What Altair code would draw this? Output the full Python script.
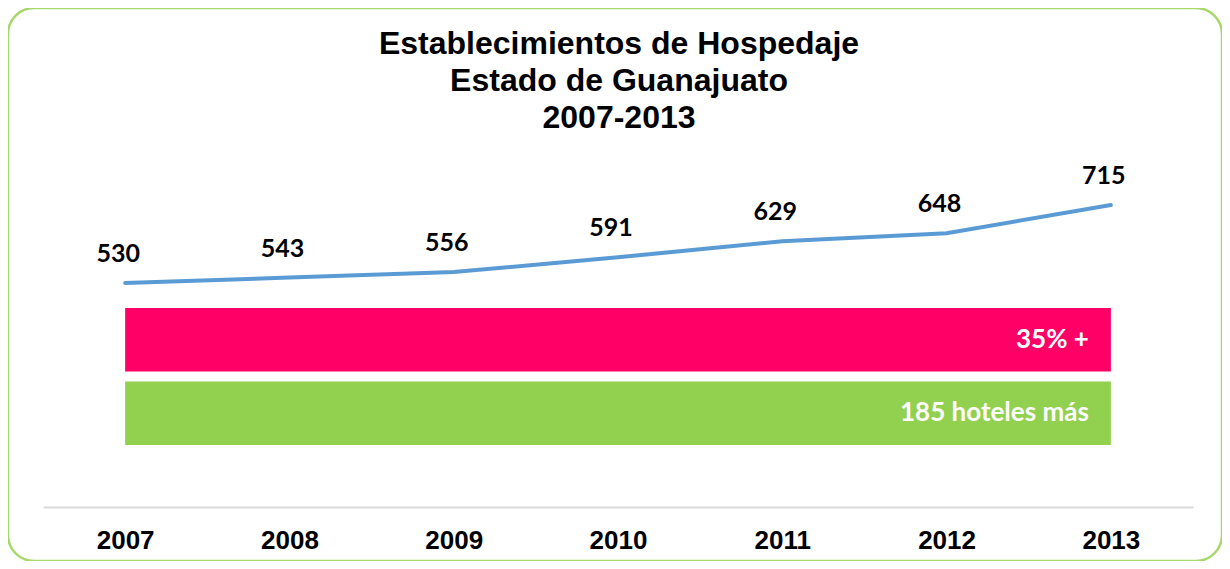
import altair as alt
import pandas as pd

years = [2007, 2008, 2009, 2010, 2011, 2012, 2013]
values = [530, 543, 556, 591, 629, 648, 715]

bar_labels = ["35% +", "185 hoteles más"]
bar_colors = ["#ff0066", "#92d050"]
bar_start = [2007, 2007]
bar_end = [2013, 2013]

line_df = pd.DataFrame({"year": years, "value": values})
bar_df = pd.DataFrame({"label": bar_labels, "start": bar_start, "end": bar_end, "color": bar_colors})

xscale = alt.Scale(domain=[2006.5, 2013.5], range=[35, 1185], nice=False, zero=False)
xaxis = alt.Axis(values=years, format="d", title=None, grid=False, ticks=False,
                 domainColor="#d9d9d9", domainWidth=2, offset=-54,
                 labelFont="Liberation Sans", labelFontWeight="bold", labelFontSize=26,
                 labelColor="#000000", labelPadding=20)
yline = alt.Scale(domain=[530, 715], range=[275, 197], zero=False, nice=False)

line = alt.Chart(line_df).mark_line(color="#5b9bd5", strokeWidth=4, strokeCap="round").encode(
    x=alt.X("year:Q", scale=xscale, axis=xaxis),
    y=alt.Y("value:Q", scale=yline, axis=None),
)
line_labels = alt.Chart(line_df).mark_text(
    font="Lato", fontWeight="bold", fontSize=25, color="#000000", dy=-29, dx=-7
).encode(
    x=alt.X("year:Q", scale=xscale, axis=xaxis),
    y=alt.Y("value:Q", scale=yline, axis=None),
    text=alt.Text("value:Q"),
)
ybar = alt.Scale(domain=bar_labels, range=[300, 437], paddingInner=0.136, paddingOuter=0)
bars = alt.Chart(bar_df).mark_bar().encode(
    x=alt.X("start:Q", scale=xscale, axis=xaxis),
    x2="end:Q",
    y=alt.Y("label:N", scale=ybar, axis=None, sort=bar_labels),
    color=alt.Color("color:N", scale=None, legend=None),
)
bar_text = alt.Chart(bar_df).mark_text(
    font="Lato", fontWeight="bold", fontSize=26, color="#ffffff", align="right", dx=-22
).encode(
    x=alt.X("end:Q", scale=xscale, axis=xaxis),
    y=alt.Y("label:N", scale=ybar, axis=None, sort=bar_labels),
    text="label:N",
)

top = alt.layer(line, line_labels).resolve_scale(y="shared")
bottom = alt.layer(bars, bar_text)

chart = alt.layer(top, bottom).resolve_scale(y="independent").properties(
    width=1214, height=553,
    autosize=alt.AutoSizeParams(type="none"),
    padding=0,
    title=alt.Title(["Establecimientos de Hospedaje", "Estado de Guanajuato", "2007-2013"],
                    font="Liberation Sans", fontSize=32, fontWeight="bold", color="#000000",
                    anchor="middle", offset=-127, lineHeight=37, dx=4),
).configure_view(stroke="#a6d96a", strokeWidth=2.5, cornerRadius=26)

chart.save("out.html", embed_options={"renderer": "svg", "actions": False})
